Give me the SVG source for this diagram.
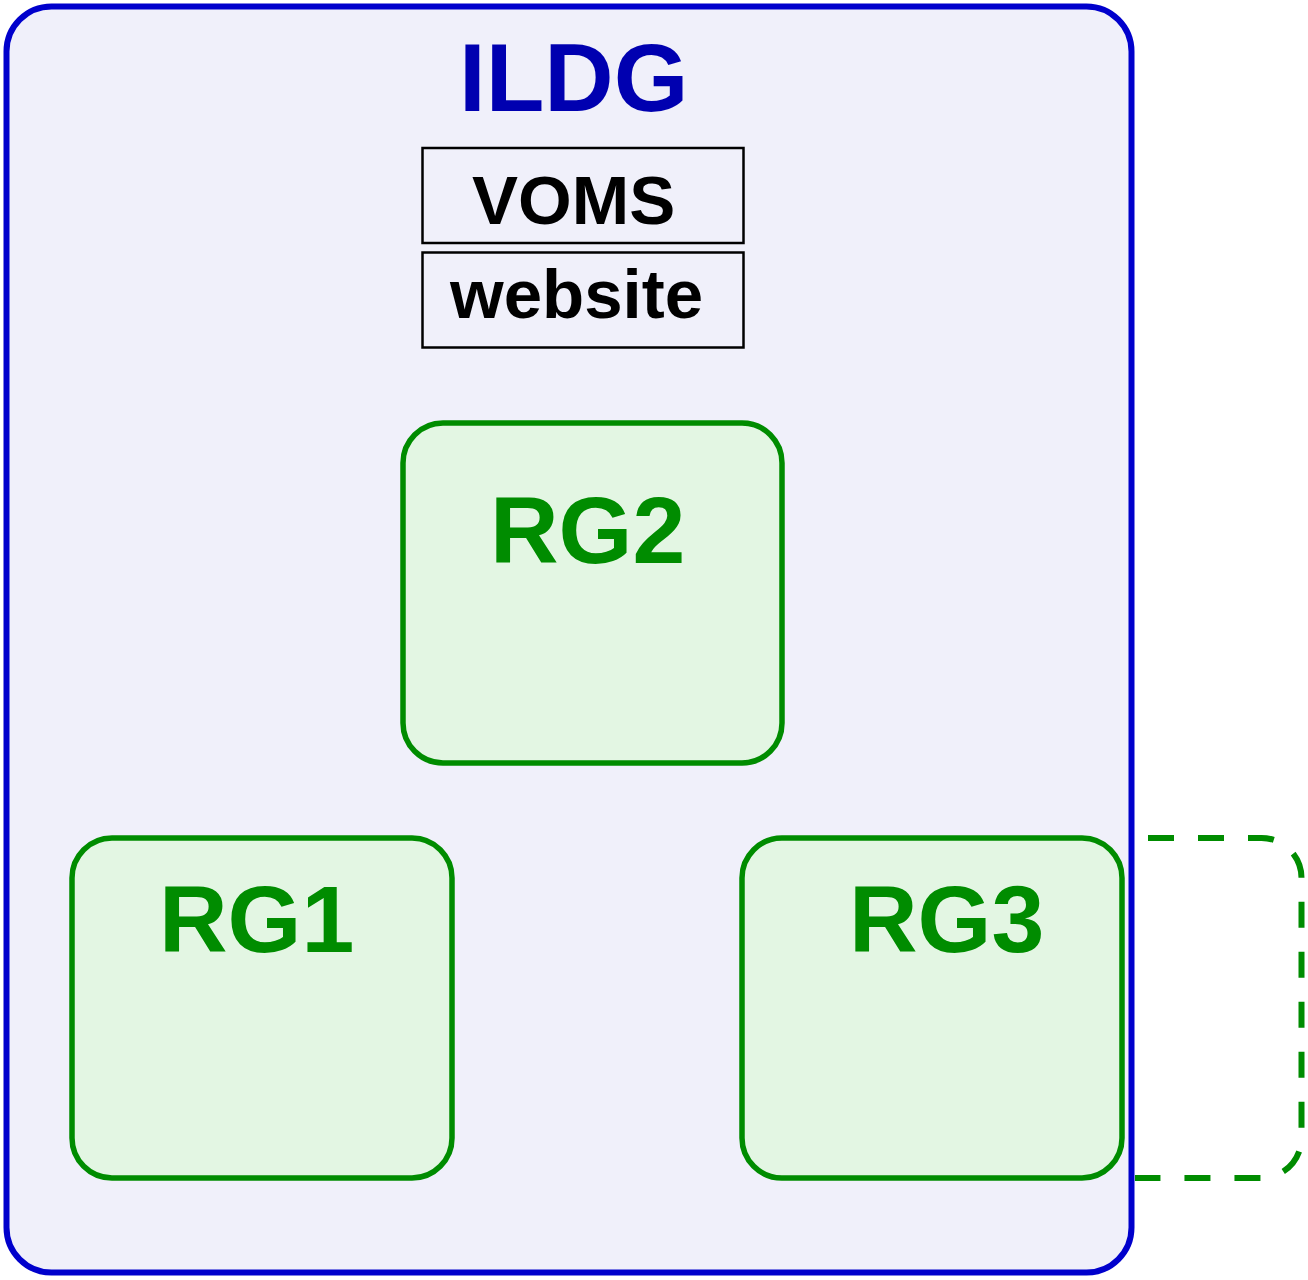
<svg xmlns="http://www.w3.org/2000/svg" width="1308" height="1280" viewBox="0 0 1308 1280">
<style>
.t{font-family:"Liberation Sans",Arial,sans-serif;font-weight:bold}
.rg{fill:#e3f6e3;stroke:#008c00;stroke-width:5.5}
.rgt{fill:#008c00;font-size:95px}
.box{fill:none;stroke:#000;stroke-width:2.5}
.bt{fill:#000;font-size:69px}
</style>
<rect width="1308" height="1280" fill="#fff"/>
<g id="connectors">
<path d="M1135,838 H1261.5 A40,40 0 0 1 1301.5,878 V1138 A40,40 0 0 1 1261.5,1178 H1135" fill="none" stroke="#008c00" stroke-width="6" stroke-dasharray="26 24" stroke-dashoffset="37"/>
</g>
<g id="ILDG">
<rect x="6.5" y="6.5" width="1125" height="1266" rx="45" fill="#f0f0fa" stroke="#0000cc" stroke-width="6"/>
<text class="t" x="459" y="111" font-size="96" fill="#0000b0">ILDG</text>
</g>
<g id="VOMS">
<rect class="box" x="422.5" y="148" width="321" height="95"/>
<text class="t bt" x="472" y="224">VOMS</text>
</g>
<g id="website">
<rect class="box" x="422.5" y="252.5" width="321" height="95"/>
<text class="t bt" x="450" y="318">website</text>
</g>
<g id="RG2">
<rect class="rg" x="403" y="423" width="379" height="340" rx="40"/>
<text class="t rgt" x="490" y="563">RG2</text>
</g>
<g id="RG1">
<rect class="rg" x="72" y="838" width="380" height="340" rx="40"/>
<text class="t rgt" x="159" y="952">RG1</text>
</g>
<g id="RG3">
<rect class="rg" x="742" y="838" width="380" height="340" rx="40"/>
<text class="t rgt" x="849" y="952">RG3</text>
</g>
</svg>
